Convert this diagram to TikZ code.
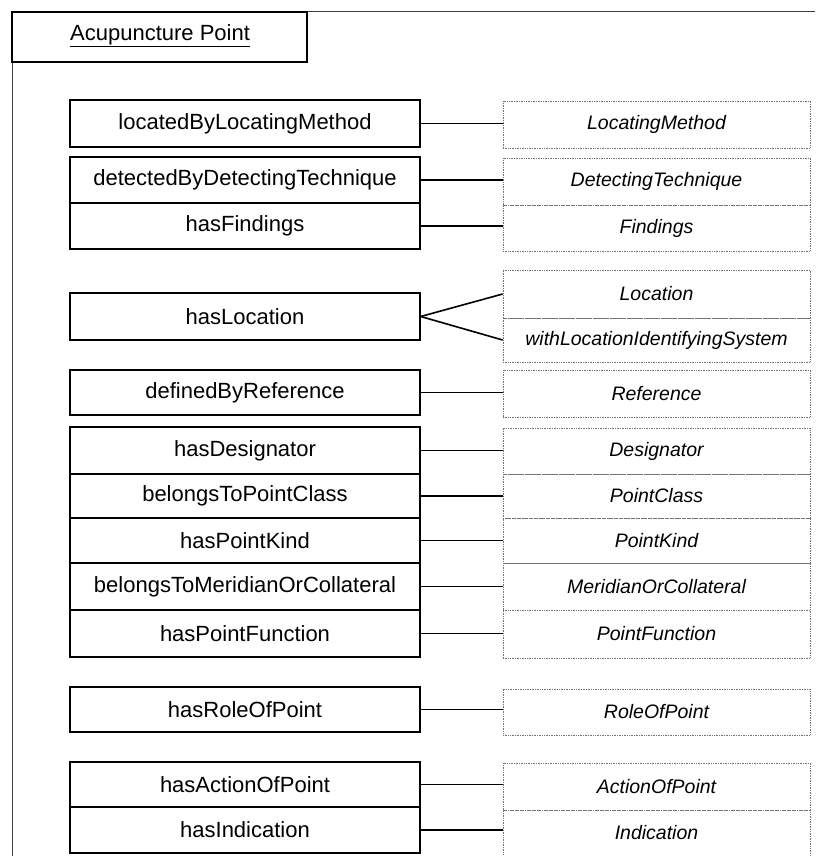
\documentclass[tikz,border=0pt]{standalone}
\usepackage{fontspec}
\setmainfont{Liberation Sans}
\begin{document}
\begin{tikzpicture}[x=1pt,y=-1pt,
  lbox/.style={draw=black,line width=1.4pt,rectangle,inner sep=0pt,minimum width=350pt,
    font=\fontsize{22}{24}\selectfont},
  rbox/.style={draw=black!55,densely dotted,line width=0.7pt,rectangle,inner sep=0pt,minimum width=307pt,
    font=\fontsize{19.5}{22}\selectfont\itshape},
  conn/.style={draw=black,line width=1.6pt},
  frame/.style={draw=black!75,line width=1pt}]
\useasboundingbox (0,0) rectangle (817,856);
% outer frame
\coordinate (ftl) at (12,12);
\coordinate (ftr) at (815,12);
\coordinate (fbl) at (12,856);
\draw[frame] (ftr) -- (ftl) -- (fbl);
% title
\node[draw=black,line width=1.3pt,rectangle,inner sep=0pt,minimum width=295pt,minimum height=50pt] (title) at (159.5,37) {};
\node[anchor=west,inner sep=0pt,font=\fontsize{22}{24}\selectfont] (titletext) at (70,36) {\underline{Acupuncture Point}};
% left boxes
\node[lbox,minimum height=47pt] (l1) at (245,123.5) {locatedByLocatingMethod};
\node[lbox,minimum height=46pt] (l2) at (245,180) {detectedByDetectingTechnique};
\node[lbox,minimum height=46pt] (l3) at (245,226) {hasFindings};
\node[lbox,minimum height=47pt] (l4) at (245,316.5) {hasLocation};
\node[lbox,minimum height=45pt] (l5) at (245,392.5) {definedByReference};
\node[lbox,minimum height=47pt] (l6) at (245,450.5) {hasDesignator};
\node[lbox,minimum height=44pt] (l7) at (245,496) {belongsToPointClass};
\node[lbox,minimum height=45pt] (l8) at (245,540.5) {hasPointKind};
\node[lbox,minimum height=47pt] (l9) at (245,586.5) {belongsToMeridianOrCollateral};
\node[lbox,minimum height=47pt] (l10) at (245,633.5) {hasPointFunction};
\node[lbox,minimum height=45pt] (l11) at (245,709.5) {hasRoleOfPoint};
\node[lbox,minimum height=45pt] (l12) at (245,784.5) {hasActionOfPoint};
\node[lbox,minimum height=46pt] (l13) at (245,830) {hasIndication};
% right boxes
\node[rbox,minimum height=47pt] (r1) at (656.5,124.5) {LocatingMethod};
\node[rbox,minimum height=47pt] (r2) at (656.5,181.5) {DetectingTechnique};
\node[rbox,minimum height=46pt] (r3) at (656.5,228) {Findings};
\node[rbox,minimum height=48pt] (r4a) at (656.5,294) {Location};
\node[rbox,minimum height=44pt] (r4b) at (656.5,340) {withLocationIdentifyingSystem};
\node[rbox,minimum height=47pt] (r5) at (656.5,393.5) {Reference};
\node[rbox,minimum height=46pt] (r6) at (656.5,451) {Designator};
\node[rbox,minimum height=44pt] (r7) at (656.5,496) {PointClass};
\node[rbox,minimum height=45pt] (r8) at (656.5,540.5) {PointKind};
\node[rbox,minimum height=47pt] (r9) at (656.5,586.5) {MeridianOrCollateral};
\node[rbox,minimum height=48pt] (r10) at (656.5,634) {PointFunction};
\node[rbox,minimum height=46pt] (r11) at (656.5,712) {RoleOfPoint};
\node[rbox,minimum height=47pt] (r12) at (656.5,786.5) {ActionOfPoint};
\node[rbox,minimum height=46pt] (r13) at (656.5,833) {Indication};
% connectors
\draw[conn] (l1.east) -- (l1.east -| r1.west);
\draw[conn] (l2.east) -- (l2.east -| r2.west);
\draw[conn] (l3.east) -- (l3.east -| r3.west);
\draw[conn] (l4.east) -- (r4a.west);
\draw[conn] (l4.east) -- (r4b.west);
\draw[conn] (l5.east) -- (l5.east -| r5.west);
\draw[conn] (l6.east) -- (l6.east -| r6.west);
\draw[conn] (l7.east) -- (l7.east -| r7.west);
\draw[conn] (l8.east) -- (l8.east -| r8.west);
\draw[conn] (l9.east) -- (l9.east -| r9.west);
\draw[conn] (l10.east) -- (l10.east -| r10.west);
\draw[conn] (l11.east) -- (l11.east -| r11.west);
\draw[conn] (l12.east) -- (l12.east -| r12.west);
\draw[conn] (l13.east) -- (l13.east -| r13.west);
\end{tikzpicture}
\end{document}
